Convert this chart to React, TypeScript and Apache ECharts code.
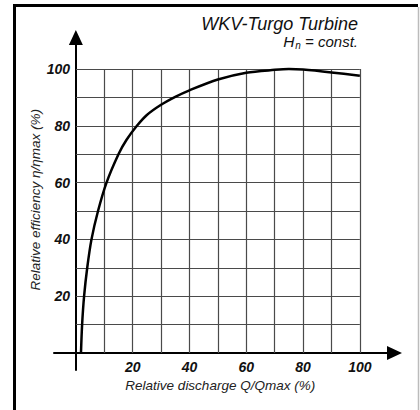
import React, { useEffect, useRef } from "react";
import * as echarts from "echarts";

// Curve: relative discharge (%) -> relative efficiency (%)
const dischargeValues = [1.8, 2.2, 2.9, 4.0, 5.5, 7.8, 10.8, 15.0, 17.8, 21.5, 25, 30, 35, 40, 50, 60, 70, 75, 80, 90, 100];
const efficiencyValues = [0, 10, 20, 30, 40, 50, 60, 70, 75, 80, 83.8, 87.4, 90.2, 92.5, 96.3, 98.7, 99.7, 100, 99.8, 98.8, 97.6];

const gridValues = [10, 20, 30, 40, 50, 60, 70, 80, 90, 100];
const xTickLabels = [20, 40, 60, 80, 100];
const yTickLabels = [20, 40, 60, 80, 100];

const titleText = "WKV-Turgo Turbine";
const xName = "Relative discharge Q/Qmax (%)";
const yName = "Relative efficiency \u03b7/\u03b7max (%)";

const FONT = "'Liberation Sans', Arial, sans-serif";

export default function App() {
  const ref = useRef<HTMLDivElement>(null);

  useEffect(() => {
    if (!ref.current) return;
    const chart = echarts.init(ref.current, null, { renderer: "svg" });

    const curve = dischargeValues.map((x, i) => [x, efficiencyValues[i]]);
    const gridLines: any[] = [];
    gridValues.forEach((v) => {
      gridLines.push([{ coord: [v, 0] }, { coord: [v, 100] }]);
      gridLines.push([{ coord: [0, v] }, { coord: [100, v] }]);
    });

    const labelStyle = {
      fontFamily: FONT,
      fontStyle: "italic",
      fontWeight: "bold",
      fontSize: 14,
      color: "#111",
    };

    chart.setOption({
      animation: false,
      backgroundColor: "#fff",
      grid: { left: 54, right: 25.5, top: 37.5, bottom: 40, containLabel: false, outerBoundsMode: "none" },
      xAxis: {
        type: "value",
        min: -7.7,
        max: 112.2,
        axisLine: {
          onZero: true,
          symbol: ["none", "triangle"],
          symbolSize: [14, 15],
          lineStyle: { color: "#000", width: 2 },
        },
        axisTick: { show: false },
        splitLine: { show: false },
        axisLabel: { customValues: xTickLabels, margin: -10, ...labelStyle },
        name: xName,
        nameLocation: "middle",
        nameGap: 8,
        nameMoveOverlap: false,
        nameTextStyle: {
          fontFamily: FONT,
          fontStyle: "italic",
          fontSize: 13.5,
          color: "#222",
          padding: [0, 8, 0, 0],
        },
      },
      yAxis: {
        type: "value",
        min: -6,
        max: 111.1,
        axisLine: {
          onZero: true,
          symbol: ["none", "triangle"],
          symbolSize: [14, 15],
          lineStyle: { color: "#000", width: 2 },
        },
        axisTick: { show: false },
        splitLine: { show: false },
        axisLabel: { customValues: yTickLabels, margin: -16, ...labelStyle },
        name: yName,
        nameLocation: "middle",
        nameGap: 12,
        nameMoveOverlap: false,
        nameTextStyle: {
          fontFamily: FONT,
          fontStyle: "italic",
          fontSize: 13.5,
          color: "#222",
          padding: [0, 0, 0, 8],
        },
      },
      series: [
        {
          type: "line",
          data: [],
          silent: true,
          z: 1,
          markLine: {
            silent: true,
            symbol: ["none", "none"],
            label: { show: false },
            lineStyle: { color: "#4a4a4a", width: 1.2, type: "solid" },
            data: gridLines,
          },
        },
        {
          type: "line",
          data: curve,
          smooth: 0.3,
          showSymbol: false,
          symbol: "none",
          z: 5,
          lineStyle: { color: "#000", width: 2.5 },
        },
      ],
      graphic: [
        { type: "line", shape: { x1: 13, y1: 5.5, x2: 418, y2: 5.5 }, style: { stroke: "#000", lineWidth: 3 } },
        { type: "line", shape: { x1: 14.5, y1: 4, x2: 14.5, y2: 410 }, style: { stroke: "#000", lineWidth: 3 } },
        { type: "line", shape: { x1: 418.5, y1: 7, x2: 418.5, y2: 410 }, style: { stroke: "#bbb", lineWidth: 1.5 } },
        {
          type: "text",
          x: 358,
          y: 23.5,
          style: { text: titleText, align: "right", verticalAlign: "middle", font: `italic 18px ${FONT}`, fill: "#111" },
        },
        {
          type: "text",
          x: 358,
          y: 41.5,
          style: {
            text: "{h|H}{sub|n}{r| = const.}",
            align: "right",
            verticalAlign: "middle",
            fill: "#111",
            rich: {
              h: { fontFamily: FONT, fontStyle: "italic", fontSize: 15.5, fill: "#111" },
              sub: { fontFamily: FONT, fontStyle: "italic", fontSize: 10, fill: "#111", padding: [8, 0, 0, 1] },
              r: { fontFamily: FONT, fontStyle: "italic", fontSize: 15, fill: "#111" },
            },
          },
        },
      ],
    });

    return () => chart.dispose();
  }, []);

  return (
    <div
      ref={ref}
      style={{ position: "absolute", left: 0, top: 0, width: 420, height: 410 }}
    />
  );
}
